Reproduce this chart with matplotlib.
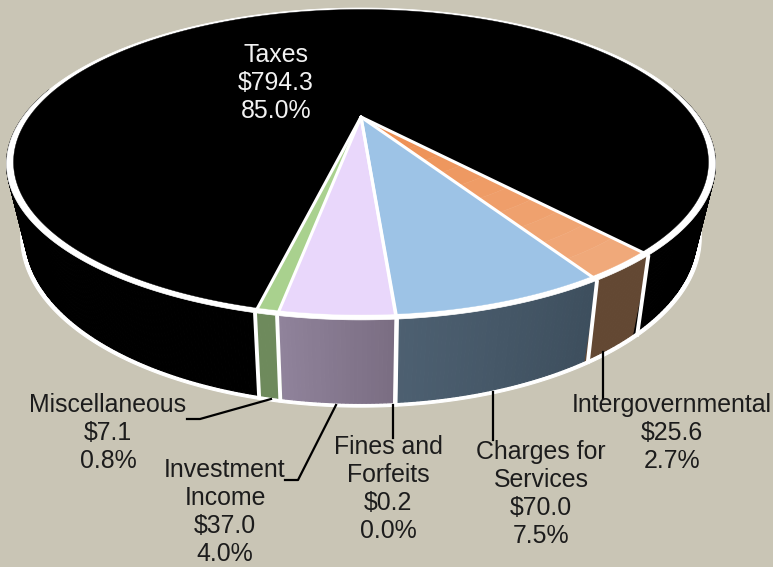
#!/usr/bin/env python3
"""3D style revenue pie, drawn by hand because matplotlib has no perspective pie."""

import matplotlib
matplotlib.use("Agg")
import matplotlib.pyplot as plt
import numpy as np
from matplotlib.colors import to_rgb
from matplotlib.patches import Polygon

plt.rcParams["font.family"] = ["Liberation Sans", "DejaVu Sans"]

labels = ["Taxes", "Intergovernmental", "Charges for\nServices", "Fines and\nForfeits",
          "Investment\nIncome", "Miscellaneous"]
amounts = [794.3, 25.6, 70.0, 0.2, 37.0, 7.1]
percents = [85.0, 2.7, 7.5, 0.0, 4.0, 0.8]

top_inner = ["#000000", "#ed8b4c", "#9dc3e6", "#e9d7fb", "#e9d7fb", "#a9d18e"]
top_outer = ["#000000", "#f0aa7c", "#9dc3e6", "#e9d7fb", "#e9d7fb", "#a9d18e"]
wall_left = ["#000000", "#634833", "#4d6071", "#8f8299", "#90839b", "#6e8a5c"]
wall_right = ["#000000", "#634833", "#3d4e5d", "#7a6d82", "#7a6d82", "#6e8a5c"]

BG = "#c9c5b5"
START = -12.8   # degrees from the front, where Taxes starts
KEEP = 0.301    # perspective strength
CX, CY, A, B = 361.0, 117.0, 338.0, 141.8
LOW_X, LOW_Y, LOW_A, LOW_B = 361.0, 186.0, 338.0 * 0.96, 141.8 * 1.09


def top_xy(theta, r=1.0):
    u, v = r * np.sin(np.radians(theta)), r * np.cos(np.radians(theta))
    w = 1 - KEEP * v
    return CX + A * u / w, CY + B * v / w


def low_xy(theta, r=1.0):
    u, v = r * np.sin(np.radians(theta)), r * np.cos(np.radians(theta))
    w = 1 - KEEP * v
    return LOW_X + LOW_A * u / w, LOW_Y + LOW_B * v / w


def mix(c1, c2, t):
    c1, c2 = np.array(to_rgb(c1)), np.array(to_rgb(c2))
    return tuple(c1 + (c2 - c1) * t)


def fill(ax, xy, color, zorder, lw=0.8):
    ax.add_patch(Polygon(xy, closed=True, facecolor=color, edgecolor=color, linewidth=lw, zorder=zorder))


fig = plt.figure(figsize=(7.73, 5.67), dpi=100, facecolor=BG)
ax = fig.add_axes([0, 0, 1, 1])
ax.set_xlim(0, 773)
ax.set_ylim(567, 0)
ax.axis("off")

total = sum(amounts)
sweeps = [360.0 * a / total for a in amounts]
edges = START - np.concatenate([[0], np.cumsum(sweeps)])
t_fine = np.linspace(0, 360, 721)

# white lower disc gives the bottom outline
fill(ax, np.column_stack(low_xy(t_fine)), "white", 1)

# walls
for i in range(len(amounts)):
    ts = np.linspace(edges[i], edges[i + 1], max(2, int(sweeps[i] * 2) + 1))
    for j, (t0, t1) in enumerate(zip(ts[:-1], ts[1:])):
        if np.cos(np.radians(t0)) < -0.2 and np.cos(np.radians(t1)) < -0.2:
            continue
        frac = (j + 0.5) / (len(ts) - 1)
        xy = [top_xy(t0), top_xy(t1), low_xy(t1, 0.988), low_xy(t0, 0.988)]
        fill(ax, xy, mix(wall_right[i], wall_left[i], frac), 2)

# white separators on the wall
for t in edges[:-1]:
    xt, yt = top_xy(t)
    xb, yb = low_xy(t)
    ax.plot([xt, xb], [yt, yb], color="white", lw=2.8, solid_capstyle="butt", zorder=3)

# top disc: white first, then the slices a bit inside
fill(ax, np.column_stack(top_xy(t_fine)), "white", 4, lw=0.5)
for i in range(len(amounts)):
    ts = np.linspace(edges[i], edges[i + 1], max(2, int(sweeps[i] * 2) + 1))
    rings = 12 if top_inner[i] != top_outer[i] else 1
    for k in range(rings):
        r0, r1 = k / rings, (k + 1) / rings
        col = mix(top_inner[i], top_outer[i], (k + 0.5) / rings)
        xo, yo = top_xy(ts, r1 * 0.982)
        xi, yi = top_xy(ts[::-1], r0 * 0.982)
        fill(ax, np.column_stack([np.r_[xo, xi], np.r_[yo, yi]]), col, 5, lw=0.3)

# spokes
for t in edges[:-1]:
    xr, yr = top_xy(t)
    ax.plot([CX, xr], [CY, yr], color="white", lw=2.2, solid_capstyle="round", zorder=6)

texts = [f"{n}\n${a:.1f}\n{p:.1f}%" for n, a, p in zip(labels, amounts, percents)]
spots = [(276, 83), (672, 433), (541, 494), (388, 489), (225, 512), (108, 433)]
for i, (s, (x, y)) in enumerate(zip(texts, spots)):
    ax.text(x, y, s, ha="center", va="center", fontsize=17.9, linespacing=1.22,
            color="#f2f2f2" if i == 0 else "#1c1c1c", zorder=8)

# leader lines
leaders = [
    ([187, 200, 271], [419, 419, 399]),
    ([285, 298, 336], [480, 480, 405]),
    ([393, 393], [405, 438]),
    ([493, 493], [392, 440]),
    ([603, 603], [352, 398]),
]
for xs, ys in leaders:
    ax.plot(xs, ys, color="black", lw=1.6, zorder=7)

fig.savefig("out.png", dpi=100, facecolor=BG)
plt.close(fig)
